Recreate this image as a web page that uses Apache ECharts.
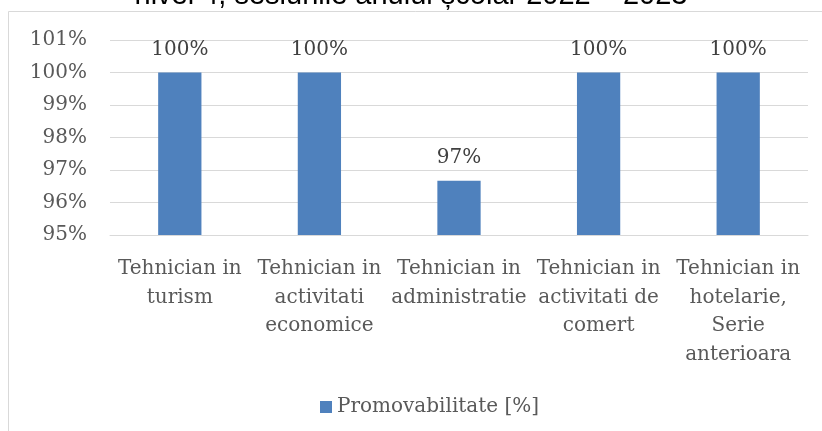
<!DOCTYPE html>
<html>
<head>
<meta charset="utf-8">
<title>Promovabilitate</title>
<script src="https://cdn.jsdelivr.net/npm/echarts@6/dist/echarts.min.js"></script>
<style>
  html, body { margin: 0; padding: 0; background: #fff; }
  #main { width: 822px; height: 431px; }
</style>
</head>
<body>
<div id="main"></div>
<script>
// date
var titlu = 'nivel 4, sesiunile anului școlar 2022 – 2023';
var specializari = [
    'Tehnician in\nturism',
    'Tehnician in\nactivitati\neconomice',
    'Tehnician in\nadministratie',
    'Tehnician in\nactivitati de\ncomert',
    'Tehnician in\nhotelarie,\nSerie\nanterioara'
];
var promovabilitate = [100, 100, 96.67, 100, 100];
var numeSerie = 'Promovabilitate [%]';
var yMin = 95, yMax = 101, yPas = 1;

var myChart = echarts.init(document.getElementById('main'));
var serif = 'DejaVu Serif';

var option = {
    animation: false,
    backgroundColor: '#fff',
    title: {
        text: titlu,
        left: 'center',
        top: -19,
        padding: 0,
        textStyle: {
            fontFamily: 'Liberation Sans',
            fontSize: 29,
            fontWeight: 'normal',
            color: '#000'
        }
    },
    //chenarul graficului
    graphic: [{
        type: 'rect',
        shape: { x: 8.5, y: 11.5, width: 830, height: 440 },
        style: { fill: 'none', stroke: '#d9d9d9', lineWidth: 1 },
        silent: true
    }],
    grid: {
        left: 110,
        right: 14,
        top: 40,
        bottom: 196,
        containLabel: false
    },
    legend: {
        data: [numeSerie],
        left: 315,
        top: 392,
        icon: 'rect',
        itemWidth: 12,
        itemHeight: 12,
        itemGap: 10,
        textStyle: {
            fontFamily: serif,
            fontSize: 20,
            color: '#595959'
        }
    },
    xAxis: {
        type: 'category',
        data: specializari,
        axisTick: { show: false },
        axisLine: { lineStyle: { color: '#d9d9d9', width: 1 } },
        axisLabel: {
            interval: 0,
            margin: 20,
            fontFamily: serif,
            fontSize: 20,
            lineHeight: 28.5,
            color: '#595959'
        }
    },
    yAxis: {
        type: 'value',
        min: yMin,
        max: yMax,
        interval: yPas,
        axisLine: { show: false },
        axisTick: { show: false },
        splitLine: { lineStyle: { color: '#d9d9d9', width: 1 } },
        axisLabel: {
            margin: 23,
            fontFamily: serif,
            fontSize: 20,
            color: '#595959',
            formatter: '{value}%'
        }
    },
    series: [{
        name: numeSerie,
        type: 'bar',
        data: promovabilitate,
        barWidth: '31%',
        itemStyle: { color: '#4f81bd' },
        label: {
            show: true,
            position: 'top',
            distance: 13,
            fontFamily: serif,
            fontSize: 20,
            color: '#404040',
            formatter: function (p) { return Math.round(p.value) + '%'; }
        }
    }]
};

myChart.setOption(option);
window.onresize = myChart.resize;
</script>
</body>
</html>
